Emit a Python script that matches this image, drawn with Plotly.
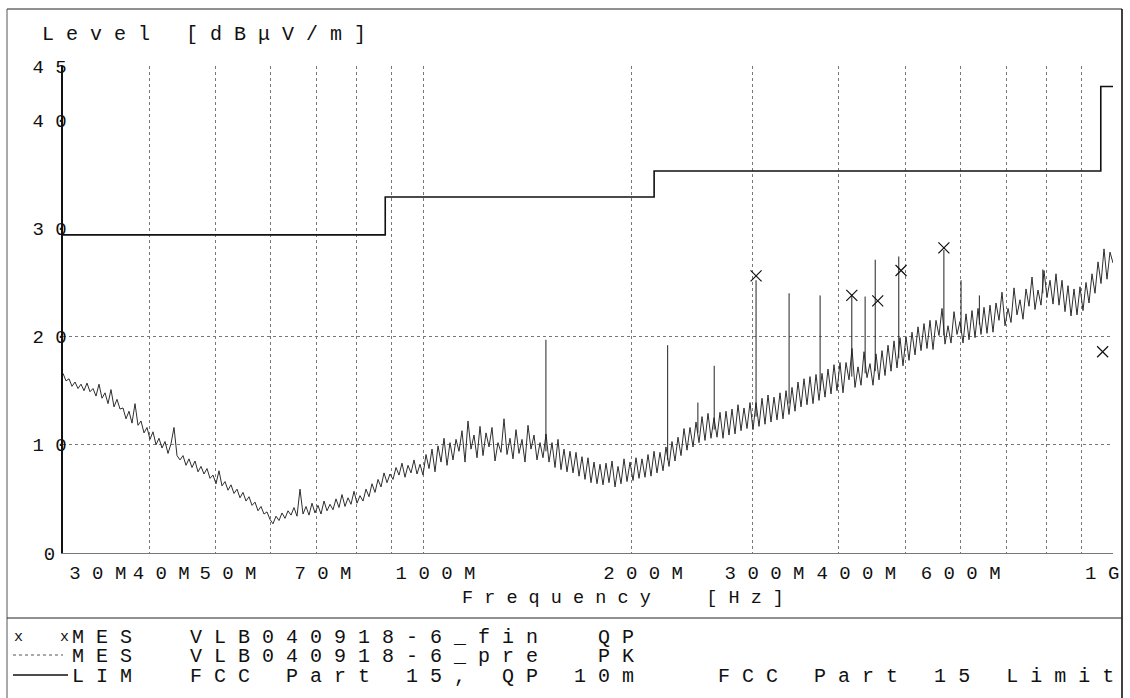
import numpy as np
import plotly.graph_objects as go

# ---------------- data ----------------
FREQ_START_HZ = 30e6
FREQ_STOP_HZ = 1e9

# preview peak scan "VLB040918-6_pre PK" [dBuV/m], log-spaced sweep points
pk_level = [
    16.6, 15.9, 16.1, 15.4, 15.8, 15.2, 15.6, 15.0, 15.7, 14.9,
    15.2, 14.5, 15.6, 14.3, 14.8, 13.8, 15.1, 13.5, 14.2, 13.3,
    13.4, 12.4, 13.1, 12.0, 13.8, 11.8, 12.2, 11.1, 11.6, 10.5,
    11.2, 10.0, 10.6, 9.7, 10.3, 9.2, 10.1, 11.6, 9.0, 8.6,
    9.0, 8.1, 8.7, 7.9, 8.5, 7.5, 8.0, 7.3, 7.8, 6.9,
    7.2, 6.4, 7.6, 6.2, 6.6, 5.8, 6.3, 5.5, 5.9, 5.1,
    5.6, 4.8, 5.2, 4.4, 4.7, 3.9, 4.3, 3.6, 3.8, 3.1,
    2.7, 3.4, 3.0, 3.7, 3.2, 3.9, 3.5, 4.2, 3.4, 5.9,
    3.6, 4.3, 3.5, 4.6, 3.7, 4.4, 3.6, 4.8, 3.9, 4.5,
    4.0, 5.0, 4.2, 5.4, 4.3, 5.1, 4.5, 5.7, 4.6, 5.3,
    4.8, 5.9, 5.2, 6.4, 5.6, 6.8, 6.1, 7.4, 6.5, 7.3,
    6.8, 7.9, 7.2, 8.3, 7.0, 8.1, 7.4, 8.6, 7.3, 8.2,
    7.2, 9.1, 7.8, 9.6, 7.5, 9.9, 8.4, 10.6, 8.1, 10.2,
    8.6, 10.5, 9.4, 11.3, 8.4, 12.2, 9.6, 10.9, 8.8, 11.7,
    9.0, 11.1, 9.8, 11.6, 8.5, 10.2, 9.3, 12.4, 9.1, 10.6,
    8.7, 11.4, 9.2, 10.5, 8.4, 11.8, 9.6, 10.9, 8.6, 10.2,
    8.8, 11.0, 8.4, 10.2, 7.9, 10.5, 7.7, 9.6, 7.5, 9.4,
    7.4, 9.3, 7.1, 8.9, 6.8, 8.8, 6.5, 8.4, 6.4, 8.2,
    6.3, 8.3, 6.5, 8.5, 6.1, 8.0, 6.4, 8.7, 6.6, 8.4,
    6.7, 8.8, 6.9, 8.7, 7.0, 9.1, 7.1, 9.4, 7.4, 9.3,
    7.6, 9.8, 8.0, 10.3, 8.5, 10.7, 9.0, 11.5, 9.5, 11.6,
    9.8, 12.1, 10.2, 12.6, 10.4, 12.9, 10.6, 12.5, 10.7, 13.0,
    10.6, 13.1, 10.9, 13.3, 11.0, 13.7, 11.3, 13.4, 11.5, 13.9,
    11.4, 13.9, 11.7, 14.3, 11.9, 14.6, 12.1, 14.4, 12.3, 14.8,
    12.4, 15.0, 12.8, 15.3, 13.1, 15.8, 13.5, 16.1, 13.7, 16.3,
    13.8, 16.5, 14.1, 16.6, 14.4, 17.0, 14.7, 17.4, 15.0, 17.6,
    14.8, 17.6, 16.0, 18.9, 15.3, 17.2, 15.5, 18.6, 16.2, 17.5,
    15.5, 18.4, 16.0, 18.7, 16.4, 19.2, 16.8, 19.6, 17.1, 19.9,
    17.3, 20.0, 17.8, 20.4, 18.3, 20.9, 18.7, 21.2, 18.9, 21.5,
    18.8, 21.5, 20.1, 22.6, 19.3, 21.0, 19.4, 22.3, 20.2, 21.4,
    19.4, 22.1, 19.7, 22.4, 19.9, 22.6, 20.2, 22.7, 20.3, 22.9,
    20.4, 23.1, 21.5, 24.1, 21.0, 22.6, 21.3, 24.5, 22.0, 23.4,
    21.6, 24.4, 22.8, 25.5, 22.5, 24.3, 22.9, 26.1, 23.6, 25.2,
    23.0, 25.8, 22.9, 25.2, 22.3, 24.7, 21.9, 24.4, 22.0, 24.6,
    22.4, 25.0, 23.1, 25.8, 24.0, 26.9, 24.9, 28.1, 25.3, 27.8,
    26.8,
]

# narrow-band emissions in the peak scan [MHz], top level and floor level [dBuV/m]
spike_freq_mhz = [150.5, 226.0, 250.0, 264.0, 303.6, 339.0, 376.0, 418.0,
                  437.0, 452.0, 489.0, 568.5, 602.0, 640.0, 791.0]
spike_top = [19.7, 19.2, 13.9, 17.3, 25.2, 24.0, 23.8, 23.9,
             23.7, 27.1, 27.4, 28.0, 25.2, 23.8, 26.2]
spike_floor = [9.4, 8.6, 11.1, 11.4, 12.6, 13.8, 15.0, 16.3,
               16.6, 16.8, 18.0, 20.1, 20.5, 21.1, 24.0]

# final quasi-peak measurements "VLB040918-6_fin QP"
qp_freq_mhz = [303.6, 418.0, 455.8, 492.7, 568.5, 966.0]
qp_level = [25.6, 23.8, 23.3, 26.1, 28.2, 18.6]

# limit line "FCC Part 15, QP 10m"
limit_freq_mhz = [30, 88, 216, 960, 1000]
limit_level = [29.4, 32.9, 35.3, 43.1, 43.1]

x_tick_mhz = [30, 40, 50, 70, 100, 200, 300, 400, 600, 1000]
x_tick_text = ["30M", "40M", "50M", "70M", "100M", "200M", "300M", "400M", "600M", "1G"]
x_minor_grid_mhz = [60, 80, 90, 500, 700, 800, 900]
y_tick_vals = [0, 10, 20, 30, 40, 45]
y_tick_text = ["0", "10", "20", "30", "40", "45"]
y_grid_vals = [10, 20]

legend_rows = [
    ("MES", "VLB040918-6_fin  QP"),
    ("MES", "VLB040918-6_pre  PK"),
    ("LIM", "FCC Part 15, QP 10m   FCC Part 15 Limit"),
]
y_title = "Level [dB\u03bcV/m]"
x_title = "Frequency  [Hz]"

# ---------------- styling helpers ----------------
W, H = 1130, 698
L, R, T, B = 63, 1113, 66, 553
FONT = "Liberation Mono"
NB = "\u00a0"


def sp(s):
    """Letter-spaced text like the EMC printout."""
    return NB.join(s.replace(" ", NB))


def px(x):
    return (x - L) / (R - L)


def py(y):
    return (B - y) / (B - T)


MHZ = 1e6
pk_freq = np.geomspace(FREQ_START_HZ, FREQ_STOP_HZ, len(pk_level))

spike_x, spike_y = [], []
for f, lo, hi in zip(spike_freq_mhz, spike_floor, spike_top):
    spike_x += [f * MHZ, f * MHZ, None]
    spike_y += [lo, hi, None]

fig = go.Figure()
fig.add_trace(go.Scatter(x=pk_freq, y=pk_level, mode="lines",
                         line=dict(color="#2e2e2e", width=1.0), hoverinfo="skip"))
fig.add_trace(go.Scatter(x=spike_x, y=spike_y, mode="lines",
                         line=dict(color="#222222", width=1), hoverinfo="skip"))
fig.add_trace(go.Scatter(x=[f * MHZ for f in limit_freq_mhz], y=limit_level, mode="lines",
                         line=dict(color="#111111", width=1.6, shape="hv")))
fig.add_trace(go.Scatter(x=[f * MHZ for f in qp_freq_mhz], y=qp_level, mode="markers",
                         marker=dict(symbol="x-thin", size=11,
                                     line=dict(color="#111111", width=1.2))))

# per-label nudges so the labels sit like the printout
lead = {"30M": 4, "400M": 1}
trail = {"70M": 1, "600M": 2, "1G": 4}
xt = [NB * lead.get(t, 0) + sp(t) + NB * trail.get(t, 0) for t in x_tick_text]
yt = [sp(t) if len(t) > 1 else t + NB for t in y_tick_text]

grid_color = "#777777"
fig.update_layout(
    width=W, height=H, autosize=False,
    margin=dict(l=L, r=W - R, t=T, b=H - B, pad=0, autoexpand=False),
    paper_bgcolor="white", plot_bgcolor="white",
    showlegend=False,
    font=dict(family=FONT, size=19, color="#111111"),
    xaxis=dict(type="log", range=[np.log10(FREQ_START_HZ), np.log10(FREQ_STOP_HZ)],
               tickmode="array", tickvals=[f * MHZ for f in x_tick_mhz], ticktext=xt,
               tickangle=0, ticks="", ticklabelshift=12, ticklabelstandoff=2,
               ticklabeloverflow="allow", automargin=False,
               showgrid=True, gridcolor=grid_color, gridwidth=1, griddash="dot",
               minor=dict(tickmode="array", tickvals=[f * MHZ for f in x_minor_grid_mhz],
                          showgrid=True, gridcolor=grid_color, gridwidth=1,
                          griddash="dot", ticks=""),
               showline=True, linecolor="#777777", linewidth=1,
               zeroline=False, fixedrange=True),
    yaxis=dict(range=[0, 45], tickmode="array", tickvals=y_tick_vals, ticktext=yt,
               ticks="", ticklabelstandoff=-9, showgrid=False, automargin=False,
               minor=dict(tickmode="array", tickvals=y_grid_vals, showgrid=True,
                          gridcolor=grid_color, gridwidth=1, griddash="dot", ticks=""),
               showline=True, linecolor="#111111", linewidth=1.6,
               zeroline=False, fixedrange=True),
)

# outer frame and separator of the printout
frame = dict(color="#222222", width=1)
shapes = [
    dict(type="line", xref="paper", yref="paper", x0=px(7), x1=px(1122), y0=py(9), y1=py(9), line=frame),
    dict(type="line", xref="paper", yref="paper", x0=px(7), x1=px(7), y0=py(9), y1=py(698), line=dict(color="#555555", width=1)),
    dict(type="line", xref="paper", yref="paper", x0=px(1122), x1=px(1122), y0=py(9), y1=py(698), line=dict(color="#111111", width=1.6)),
    dict(type="line", xref="paper", yref="paper", x0=px(7), x1=px(1122), y0=py(618), y1=py(618), line=frame),
    # legend line samples
    dict(type="line", xref="paper", yref="paper", x0=px(13), x1=px(63), y0=py(655), y1=py(655),
         line=dict(color="#555555", width=1, dash="dot")),
    dict(type="line", xref="paper", yref="paper", x0=px(13), x1=px(68), y0=py(675), y1=py(675),
         line=dict(color="#111111", width=1.4)),
]
fig.update_layout(shapes=shapes)

ann = []


def text(xp, yp, s, size=19, anchor="left"):
    ann.append(dict(x=px(xp), y=py(yp), xref="paper", yref="paper", text=s, showarrow=False,
                    xanchor=anchor, yanchor="middle",
                    font=dict(family=FONT, size=size, color="#111111")))


text(40, 35, sp(y_title), size=20)
text(460, 598, sp(x_title), size=18.5)
row_y = [637, 656, 676]
for (tag, desc), yy in zip(legend_rows, row_y):
    text(70, yy, sp(tag), size=20)
    text(188, yy, sp(desc), size=20)
text(12, 637, "x", size=15)
text(58, 637, "x", size=15)
fig.update_layout(annotations=ann)

fig.write_html("out.html", config={"displayModeBar": False, "staticPlot": True},
               post_script="document.body.style.margin='0';")
